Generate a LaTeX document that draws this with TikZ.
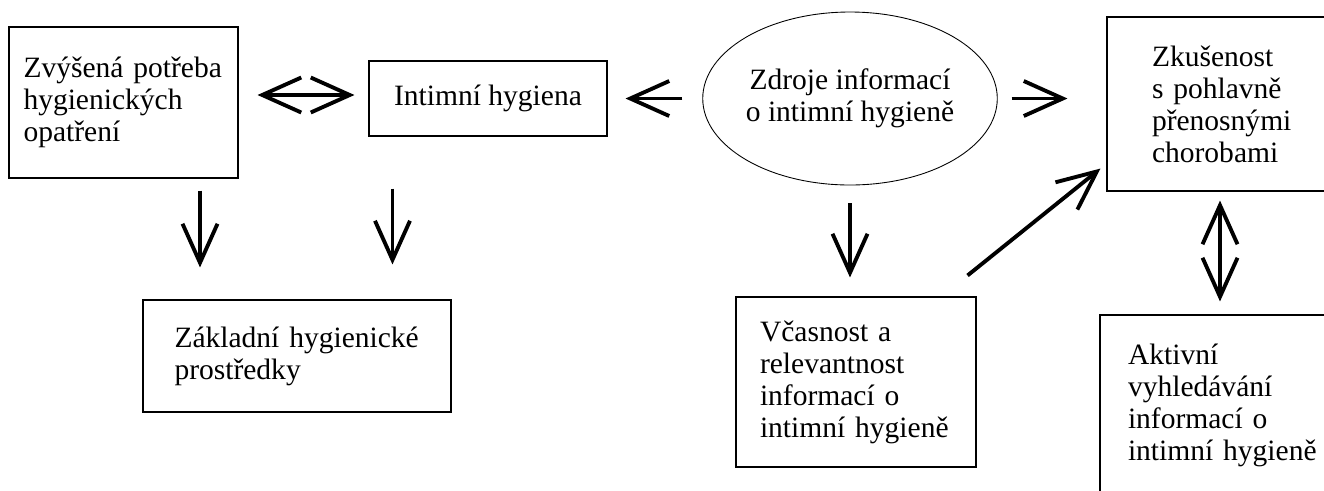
\documentclass[tikz,border=0pt]{standalone}
\usepackage{fontspec}
\setmainfont{Liberation Serif}
\usetikzlibrary{arrows.meta, shapes.geometric}

\begin{document}
\begin{tikzpicture}[
			box/.style={rectangle, draw, line width=0.6pt, align=left,
					font=\fontsize{16.8}{18.2}\selectfont},
			oval/.style={ellipse, draw, line width=0.5pt, align=center, inner sep=0pt,
					minimum width=5.12cm, minimum height=3.46cm, font=\fontsize{16.8}{18.2}\selectfont},
			arrow/.style={line width=2.2pt, ->},
			>={Straight Barb[length=0.78cm, width=0.7cm]},
		]
		\useasboundingbox (0,0) rectangle (26.48,-9.8);
		\clip (0,0) rectangle (26.48,-9.8);

		% --- Uzly ---
		\node (zvys)   [box, minimum width=4.58cm, minimum height=3.02cm, text width=4.0cm, inner xsep=0.29cm]
			at (2.47, -2.05) {Zvýšená potřeba\\hygienických\\opatření};
		\node (intim)  [box, align=center, minimum width=4.76cm, minimum height=1.5cm]
			at (9.76, -1.97) {Intimní hygiena};
		\node (zdroje) [oval] at (17.0, -1.97) {Zdroje informací\\o intimní hygieně};
		\node (zkus)   [box, minimum width=4.8cm, minimum height=3.48cm, text width=3.0cm, inner xsep=0.9cm]
			at (24.54, -2.08) {Zkušenost\\s pohlavně\\přenosnými\\chorobami};
		\node (zakl)   [box, minimum width=6.16cm, minimum height=2.24cm, text width=4.9cm, inner xsep=0.63cm]
			at (5.94, -7.12) {Základní hygienické\\prostředky};
		\node (vcas)   [box, minimum width=4.8cm, minimum height=3.4cm, text width=3.84cm, inner xsep=0.48cm]
			at (17.12, -7.64) {Včasnost a\\relevantnost\\informací o\\intimní hygieně};
		\node (aktiv)  [box, minimum width=5.02cm, minimum height=3.6cm, text width=3.9cm, inner xsep=0.56cm]
			at (24.51, -8.10) {Aktivní\\vyhledávání\\informací o\\intimní hygieně};

		% --- Horní řada ---
		\draw [arrow, <->, shorten <=0.38cm, shorten >=0.28cm] ([yshift=0.07cm]zvys.east |- intim.west) -- ([yshift=0.07cm]intim.west);
		\draw [arrow, shorten <=0.4cm, shorten >=0.36cm] (zdroje.west) -- (intim.east);
		\draw [arrow, shorten <=0.28cm, shorten >=0.78cm] (zdroje.east) -- (zdroje.east -| zkus.west);

		% --- Šipky dolů ---
		\draw [arrow, shorten <=0.24cm, shorten >=0.64cm] ([xshift=1.53cm]zvys.south) -- ([xshift=1.53cm]zvys.south |- zakl.north);
		\draw [arrow, shorten <=1.04cm, shorten >=0.7cm] ([xshift=0.48cm]intim.south west) -- ([xshift=0.48cm]intim.south west |- zakl.north);
		\draw [arrow, shorten <=0.36cm, shorten >=0.38cm] (zdroje.south) -- (zdroje.south |- vcas.north);

		% --- Pravá část ---
		\draw [arrow] ([shift={(-0.18cm,0.42cm)}]vcas.north east) -- ([shift={(-0.12cm,0.46cm)}]zkus.south west);
		\draw [arrow, <->, shorten <=0.18cm, shorten >=0.26cm] ([xshift=-0.14cm]zkus.south) -- ([xshift=-0.14cm]zkus.south |- aktiv.north);

	\end{tikzpicture}
\end{document}
